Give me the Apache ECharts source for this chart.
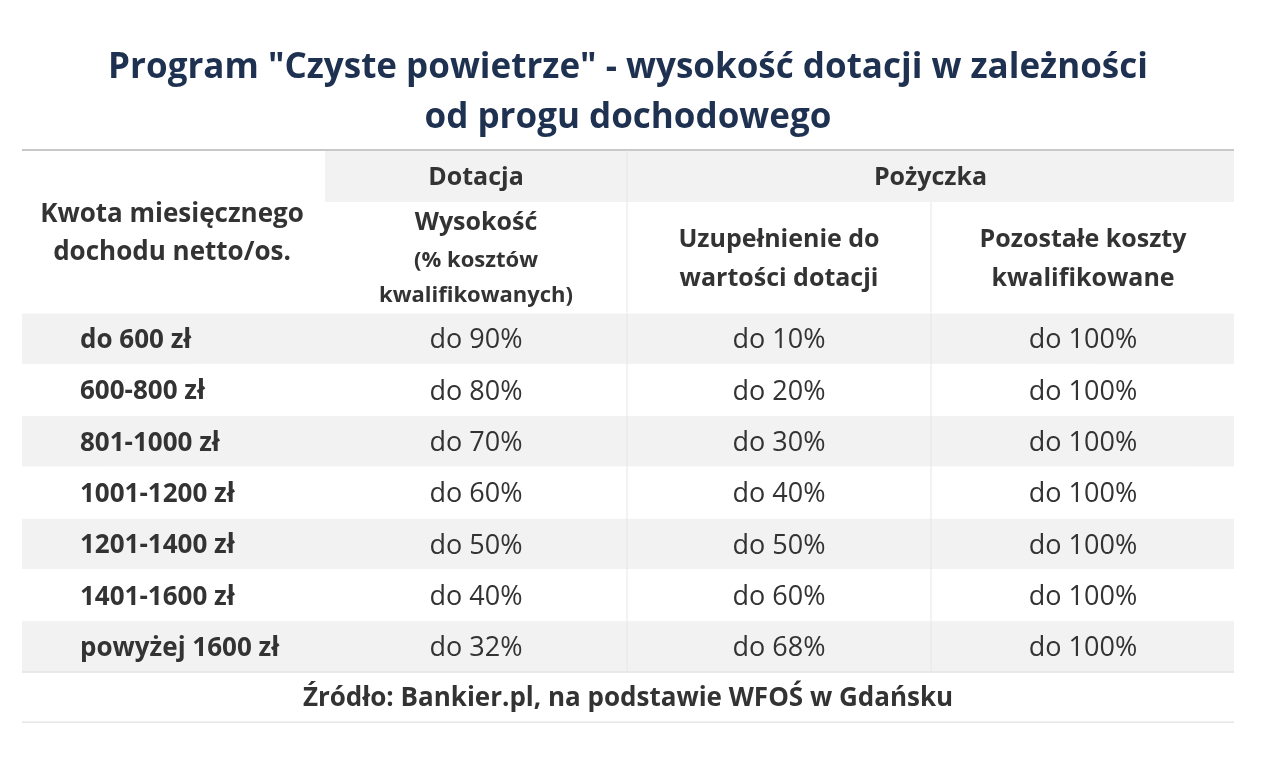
<!DOCTYPE html>
<html>
<head>
<meta charset="utf-8">
<script src="https://cdn.jsdelivr.net/npm/echarts@6/dist/echarts.min.js"></script>
<style>html,body{margin:0;padding:0;background:#fff}</style>
</head>
<body>
<div id="main" style="width:1280px;height:763px;"></div>
<script>
    var titleLines = ['Program "Czyste powietrze" - wysokość dotacji w zależności', 'od progu dochodowego'];
    var groupHeaders = ['Dotacja', 'Pożyczka'];
    var colHeaders = [
        ['Kwota miesięcznego', 'dochodu netto/os.'],
        ['Wysokość', '(% kosztów', 'kwalifikowanych)'],
        ['Uzupełnienie do', 'wartości dotacji'],
        ['Pozostałe koszty', 'kwalifikowane']
    ];
    var rowLabels = ['do 600 zł', '600-800 zł', '801-1000 zł', '1001-1200 zł', '1201-1400 zł', '1401-1600 zł', 'powyżej 1600 zł'];
    var dotacja = ['do 90%', 'do 80%', 'do 70%', 'do 60%', 'do 50%', 'do 40%', 'do 32%'];
    var uzupelnienie = ['do 10%', 'do 20%', 'do 30%', 'do 40%', 'do 50%', 'do 60%', 'do 68%'];
    var pozostale = ['do 100%', 'do 100%', 'do 100%', 'do 100%', 'do 100%', 'do 100%', 'do 100%'];
    var source = 'Źródło: Bankier.pl, na podstawie WFOŚ w Gdańsku';

    var font = '"Open Sans", "Noto Sans", sans-serif';
    var txt = '#333333', gray = '#f2f2f2', line = '#d9d9d9';
    var L = 22, R = 1234, colX = [22, 325, 627, 931, 1234];
    var colC = [172, 476, 779, 1083];
    var rowTop = 313, rowH = 51.3;
    var els = [];

    function text(x, y, s, size, weight, align, color) {
        els.push({type: 'text', x: x, y: y, style: {text: s, fill: color || txt, font: (weight || 'normal') + ' ' + size + 'px ' + font, align: align || 'center', verticalAlign: 'middle'}});
    }
    function rect(x, y, w, h, c) { els.push({type: 'rect', shape: {x: x, y: y, width: w, height: h}, style: {fill: c}}); }
    function ln(x1, y1, x2, y2, c, w) { els.push({type: 'line', shape: {x1: x1, y1: y1, x2: x2, y2: y2}, style: {stroke: c, lineWidth: w || 1}}); }

    titleLines.forEach(function (t, i) { text(628, 68 + i * 50, t, 35, 'bold', 'center', '#1f3150'); });

    // header
    rect(colX[1], 150, R - colX[1], 52, gray);
    ln(L, 150, R, 150, '#c8c8c8', 2);
    text(colC[1], 178, groupHeaders[0], 25, 'bold');
    text((colX[2] + R) / 2, 178, groupHeaders[1], 25, 'bold');
    text(colC[0], 215, colHeaders[0][0], 26, 'bold');
    text(colC[0], 253, colHeaders[0][1], 26, 'bold');
    text(colC[1], 223, colHeaders[1][0], 25, 'bold');
    text(colC[1], 261, colHeaders[1][1], 22, 'bold');
    text(colC[1], 296, colHeaders[1][2], 22, 'bold');
    [2, 3].forEach(function (c) {
        text(colC[c], 240, colHeaders[c][0], 25, 'bold');
        text(colC[c], 279, colHeaders[c][1], 25, 'bold');
    });
    ln(colX[2], 150, colX[2], 313, '#e6e6e6');
    ln(colX[3], 202, colX[3], 313, '#e6e6e6');

    // rows
    rowLabels.forEach(function (lab, i) {
        var y = rowTop + i * rowH;
        if (i % 2 === 0) rect(L, y, R - L, rowH, gray);
        ln(L, y, R, y, '#ffffff');
        var cy = y + rowH / 2 + 2;
        text(80, cy, lab, 26, 'bold', 'left');
        text(colC[1], cy, dotacja[i], 27);
        text(colC[2], cy, uzupelnienie[i], 27);
        text(colC[3], cy, pozostale[i], 27);
    });
    var endY = rowTop + rowLabels.length * rowH;
    ln(colX[2], rowTop, colX[2], endY, '#e6e6e6');
    ln(colX[3], rowTop, colX[3], endY, '#e6e6e6');
    ln(L, endY, R, endY, line);
    text(628, endY + 26, source, 26, 'bold');
    ln(L, endY + 50, R, endY + 50, line);

    var myChart = echarts.init(document.getElementById('main'));
    myChart.setOption({animation: false, graphic: {elements: els}});
</script>
</body>
</html>
